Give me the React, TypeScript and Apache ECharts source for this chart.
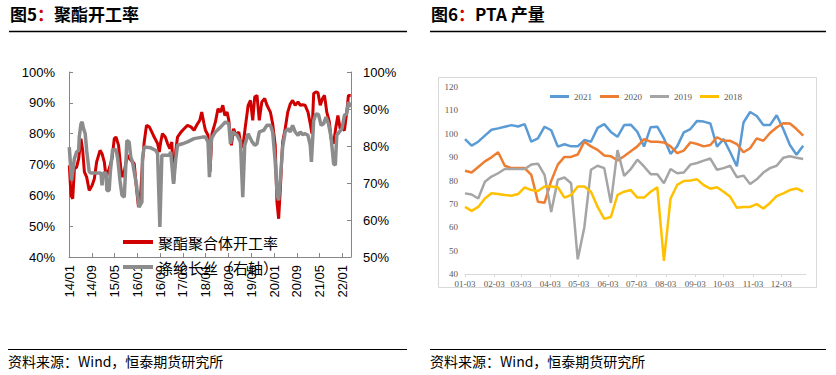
import React, { useEffect, useRef } from "react";
import * as echarts from "echarts";

// ---------- Left chart (图5 聚酯开工率) ----------
// x = months since 2014/01
const leftTickMonths = [0, 8, 16, 24, 32, 40, 48, 56, 64, 72, 80, 88, 96];
const leftTickLabels = ["14/01", "14/09", "15/05", "16/01", "16/09", "17/05", "18/01", "18/09", "19/05", "20/01", "20/09", "21/05", "22/01"];

const polyesterRate: [number, number][] = [
  [0.1, 69.7], [0.7, 60], [1.3, 58.9], [1.9, 68.6], [2.7, 69.2], [3.4, 71.9], [4.2, 78.4], [4.8, 74.6],
  [5.4, 67.6], [6.2, 65.9], [7.1, 61.6], [8.1, 63.2], [8.9, 65.4], [9.7, 70.8], [10.9, 74.6], [11.6, 73.5],
  [12.4, 70.8], [13.0, 65.9], [14.1, 68.6], [15.1, 71.9], [15.9, 78.4], [16.5, 78.9], [17.4, 76.2], [18.2, 68.6],
  [18.8, 65.9], [19.4, 67.6], [20.0, 70.8], [20.9, 73], [21.7, 71.4], [22.9, 70.3], [23.7, 62.2], [24.4, 56.2],
  [25.2, 61], [25.8, 70.8], [26.4, 77.3], [27.2, 82.7], [28.2, 82.2], [29.1, 80.5], [29.9, 78.9], [31.1, 76.8],
  [31.7, 74], [32.2, 77.3], [32.8, 80], [33.8, 78.9], [34.6, 76.8], [35.4, 75.1], [36.1, 77.3], [36.7, 63.8],
  [37.5, 74.6], [38.1, 78.9], [39.3, 80.5], [40.4, 81.6], [41.6, 82.7], [42.8, 82.2], [43.9, 81.1], [45.1, 83.2],
  [45.9, 84.3], [46.6, 87], [47.4, 83.2], [47.9, 81.1], [48.8, 79.5], [49.5, 67.6], [50.2, 80], [51.4, 83.8],
  [52.3, 88.1], [53.2, 87], [54.0, 89.2], [54.7, 85.9], [55.5, 87], [56.1, 84.3], [57.0, 76.2], [57.8, 81.6],
  [58.6, 79.5], [59.6, 80.5], [60.2, 77.3], [61.0, 75.5], [61.9, 82.2], [62.9, 89.2], [63.7, 90.8], [64.5, 84.3],
  [65.2, 91.9], [66.0, 92.4], [66.8, 84.3], [67.7, 90.3], [68.7, 91.4], [69.5, 89.2], [70.7, 87], [71.5, 83.2],
  [72.4, 76.2], [73.0, 57.8], [73.6, 52.4], [74.2, 62.2], [75.0, 77.3], [75.9, 81.6], [76.8, 87], [77.7, 89.7],
  [78.5, 90.8], [79.4, 89.2], [80.4, 90.3], [81.2, 89.2], [82.0, 89.4], [82.9, 89.2], [83.9, 87], [84.7, 83.2],
  [85.3, 80], [85.9, 93], [86.7, 93.5], [87.4, 93.3], [88.2, 89.2], [89.0, 91.4], [89.7, 92.4], [90.5, 87],
  [91.4, 83.8], [92.0, 78.4], [92.9, 76.8], [93.7, 82.2], [94.4, 85.9], [95.2, 81.6], [95.9, 81.6], [96.7, 81.1],
  [97.5, 87], [98.1, 92.4], [98.9, 92.4],
];

const filamentRate: [number, number][] = [
  [0.1, 79.7], [0.9, 70.7], [1.9, 76.6], [2.7, 78.4], [3.4, 78.8], [3.6, 82.4], [4.2, 86], [4.6, 86.5],
  [5.1, 84.7], [5.7, 83.3], [6.2, 78.8], [7.1, 73], [7.7, 72.7], [9.5, 72.7], [11.2, 72.7], [11.6, 69.4],
  [12.0, 72.7], [13.0, 72.7], [13.3, 68], [14.1, 68], [14.5, 72.9], [15.3, 79], [16.5, 79], [17.1, 76.6],
  [17.9, 70.7], [18.6, 66.7], [19.4, 66.2], [20.0, 75.7], [20.3, 81.5], [21.1, 81.1], [21.7, 77], [22.3, 75.7],
  [23.7, 69.4], [24.6, 63.5], [25.6, 64.9], [25.8, 76.6], [26.4, 79.7], [28.7, 79.5], [30.5, 78.8], [31.1, 77.9],
  [31.9, 58.1], [32.6, 77.5], [35.2, 77.5], [35.7, 78.4], [36.7, 69.8], [37.5, 76.6], [38.1, 80.2], [39.8, 80.6],
  [41.6, 81.1], [43.9, 82], [46.8, 82.4], [47.9, 82.4], [48.8, 81.1], [49.3, 71.6], [50.0, 82], [51.4, 83.8],
  [53.2, 85.1], [54.9, 86.5], [56.1, 86], [56.7, 80.6], [57.5, 83.8], [59.0, 82.9], [60.2, 81.1], [61.0, 66.2],
  [61.7, 80.2], [62.9, 83.3], [64.3, 81.1], [65.2, 80.2], [66.0, 80.6], [66.8, 83.8], [68.3, 84.2], [69.5, 85.6],
  [70.7, 85.6], [71.5, 83.8], [72.4, 75.7], [73.1, 66.7], [73.6, 65.3], [74.2, 71.2], [75.0, 79.7], [75.9, 83.8],
  [76.9, 84.7], [77.7, 83.8], [78.5, 85.6], [79.4, 83.8], [80.4, 82.9], [81.2, 83.8], [82.0, 83.1], [82.9, 83.3],
  [83.9, 82.9], [84.7, 80.2], [85.1, 75.7], [85.9, 86.9], [86.7, 88.7], [87.6, 88.5], [88.5, 85.6], [89.4, 86],
  [90.2, 87.8], [91.1, 86], [92.0, 82.4], [92.9, 75.2], [93.5, 74.8], [94.0, 82.9], [94.9, 83.8], [95.8, 84.7],
  [96.7, 88.3], [97.5, 88.7], [98.1, 91.9], [98.9, 90.5],
];

// ---------- Right chart (图6 PTA 产量) ----------
// x = days since 01-03 (weekly points)
const rightTickDays = [0, 31, 59, 90, 120, 151, 181, 212, 243, 273, 304, 334];
const rightTickLabels = ["01-03", "02-03", "03-03", "04-03", "05-03", "06-03", "07-03", "08-03", "09-03", "10-03", "11-03", "12-03"];

const pta2021 = [97.7, 94.9, 96.6, 99.2, 101.7, 102.3, 103, 103.7, 103.1, 104.1, 96.6, 98, 103, 101.5, 94.5, 95.5, 94.6, 94.6, 97.3, 96.6, 102.5, 104.1, 100.8, 98.7, 103.7, 103.9, 100.8, 94.5, 102.8, 103, 98, 91.4, 94.6, 100.6, 102, 105.5, 105.2, 104.4, 94.5, 97.7, 92.1, 86.1, 104.8, 109.3, 107.6, 103.7, 103.7, 107.9, 102, 95.2, 91, 94.9];
const pta2020 = [84.2, 83.4, 85.8, 88.2, 89.9, 92.1, 86.3, 85.3, 85.3, 85.3, 82.4, 70.9, 70.5, 79.8, 86.8, 90.1, 90.1, 91.1, 96.6, 94.6, 93.1, 90.7, 90.4, 88.6, 90.4, 92.5, 94.6, 97.7, 96.6, 96.6, 96.3, 94.6, 91.7, 92.8, 96.3, 95.6, 94.6, 95.2, 98.5, 97, 97, 95.6, 92.1, 93.8, 98, 97, 100.3, 102.7, 104.5, 104.4, 102, 99.2];
const pta2019 = [74.5, 74, 72.3, 79.5, 81.7, 83.1, 84.9, 84.9, 84.9, 84.9, 86.8, 87.2, 82.4, 66.5, 80.3, 81.3, 78.8, 46.3, 60, 84.6, 86.3, 85.3, 70.4, 93, 82, 84.9, 88.9, 86, 82.7, 82.7, 78.8, 84.9, 83.1, 83.4, 86.8, 87.5, 88.5, 89.4, 84.6, 85.3, 86.3, 81.4, 82.1, 78.5, 80.5, 83.4, 85.3, 86.3, 89.7, 90.4, 89.7, 89.2];
const pta2018 = [68.7, 67, 68.7, 72.3, 74.5, 74.2, 73.8, 73.5, 74.2, 77.1, 75.9, 75.5, 77.4, 77.4, 77.1, 72.7, 73.8, 77.4, 77.4, 75.2, 68.7, 63.6, 64.4, 73.8, 75.2, 75.9, 72.7, 72.7, 75.2, 77.1, 45.6, 72.3, 78.1, 79.8, 80, 80.5, 78, 76.5, 77.1, 75.2, 73, 68.3, 68.7, 68.7, 69.9, 68, 70.4, 73.3, 74.5, 75.9, 76.6, 75.2];

const weekly = (vals: number[]) => vals.map((v, i) => [i * 7, v]);

const CJK = "'Noto Sans CJK SC', sans-serif";
const SANS = "'Liberation Sans', Arial, sans-serif";
const SERIF = "'Liberation Serif', 'Times New Roman', serif";

export default function App() {
  const ref = useRef<HTMLDivElement>(null);

  useEffect(() => {
    document.body.style.margin = "0";
    if (!ref.current) return;
    const chart = echarts.init(ref.current, undefined, { renderer: "svg" });
    const gray = "#868686";

    const titleRich = {
      a: { fontSize: 17, fontWeight: "bold", fill: "#000", fontFamily: CJK },
      r: { fontSize: 17, fontWeight: "bold", fill: "#d00000", fontFamily: CJK },
    };

    const option: any = {
      animation: false,
      backgroundColor: "#fff",
      grid: [
        { left: 69, top: 72, width: 282, height: 185 },
        { left: 465, top: 87, width: 341, height: 187 },
      ],
      xAxis: [
        {
          type: "value", gridIndex: 0, min: 0, max: 99,
          axisLine: { show: true, onZero: false, lineStyle: { color: gray, width: 1 } },
          axisTick: { show: true, inside: true, length: 4, customValues: leftTickMonths, lineStyle: { color: gray } },
          axisLabel: {
            customValues: leftTickMonths, rotate: 90, margin: 8, fontSize: 13, color: "#000", fontFamily: SANS,
            formatter: (v: number) => leftTickLabels[leftTickMonths.indexOf(Math.round(v))] ?? "",
          },
          splitLine: { show: false },
        },
        {
          type: "value", gridIndex: 1, min: 0, max: 360,
          axisLine: { show: true, onZero: false, lineStyle: { color: "#d9d9d9", width: 1 } },
          axisTick: { show: true, length: 3, customValues: rightTickDays, lineStyle: { color: "#d9d9d9" } },
          axisLabel: {
            customValues: rightTickDays, margin: 5, fontSize: 9, color: "#595959", fontFamily: SERIF,
            formatter: (v: number) => rightTickLabels[rightTickDays.indexOf(Math.round(v))] ?? "",
          },
          splitLine: { show: false },
        },
      ],
      yAxis: [
        {
          type: "value", gridIndex: 0, position: "left", min: 40, max: 100, interval: 10,
          axisLine: { show: true, lineStyle: { color: gray } },
          axisTick: { show: true, inside: true, length: 4, lineStyle: { color: gray } },
          axisLabel: { formatter: "{value}%", fontSize: 13, color: "#000", fontFamily: SANS, margin: 14 },
          splitLine: { show: false },
        },
        {
          type: "value", gridIndex: 0, position: "right", min: 50, max: 100, interval: 10,
          axisLine: { show: true, lineStyle: { color: gray } },
          axisTick: { show: true, inside: true, length: 4, lineStyle: { color: gray } },
          axisLabel: { formatter: "{value}%", fontSize: 13, color: "#000", fontFamily: SANS, margin: 12 },
          splitLine: { show: false },
        },
        {
          type: "value", gridIndex: 1, min: 40, max: 120, interval: 10,
          axisLine: { show: false }, axisTick: { show: false },
          axisLabel: { fontSize: 9, color: "#595959", fontFamily: SERIF, margin: 7 },
          splitLine: { show: false },
        },
      ],
      legend: [
        {
          orient: "vertical", left: 118, top: 228, icon: "rect", itemWidth: 30, itemHeight: 4, itemGap: 7,
          data: ["聚酯聚合体开工率", "涤纶长丝（右轴）"],
          textStyle: { fontSize: 15, color: "#000", fontFamily: CJK, lineHeight: 18 },
        },
        {
          orient: "horizontal", left: 545, top: 87, icon: "rect", itemWidth: 19, itemHeight: 3, itemGap: 8,
          data: ["2021", "2020", "2019", "2018"],
          textStyle: { fontSize: 9, color: "#595959", fontFamily: SERIF },
        },
      ],
      series: [
        {
          name: "聚酯聚合体开工率", type: "line", xAxisIndex: 0, yAxisIndex: 0, data: polyesterRate,
          symbol: "none", lineStyle: { color: "#d00000", width: 3 }, itemStyle: { color: "#d00000" },
        },
        {
          name: "涤纶长丝（右轴）", type: "line", xAxisIndex: 0, yAxisIndex: 1, data: filamentRate,
          symbol: "none", lineStyle: { color: "#8c8c8c", width: 3.5 }, itemStyle: { color: "#8c8c8c" },
        },
        {
          name: "2021", type: "line", xAxisIndex: 1, yAxisIndex: 2, data: weekly(pta2021),
          symbol: "none", lineStyle: { color: "#5b9bd5", width: 2.5 }, itemStyle: { color: "#5b9bd5" },
        },
        {
          name: "2020", type: "line", xAxisIndex: 1, yAxisIndex: 2, data: weekly(pta2020),
          symbol: "none", lineStyle: { color: "#ed7d31", width: 2.5 }, itemStyle: { color: "#ed7d31" },
        },
        {
          name: "2019", type: "line", xAxisIndex: 1, yAxisIndex: 2, data: weekly(pta2019),
          symbol: "none", lineStyle: { color: "#a5a5a5", width: 2.5 }, itemStyle: { color: "#a5a5a5" },
        },
        {
          name: "2018", type: "line", xAxisIndex: 1, yAxisIndex: 2, data: weekly(pta2018),
          symbol: "none", lineStyle: { color: "#ffc000", width: 2.5 }, itemStyle: { color: "#ffc000" },
        },
      ],
      graphic: [
        {
          type: "text", left: 10, top: 5, z: 10,
          style: { text: "{a|图5}{r|：}{a|聚酯开工率}", rich: titleRich },
        },
        {
          type: "text", left: 431, top: 5, z: 10,
          style: { text: "{a|图6}{r|：}{a|PTA 产量}", rich: titleRich },
        },
        { type: "line", shape: { x1: 9, y1: 31.5, x2: 407, y2: 31.5 }, style: { stroke: "#000", lineWidth: 1.5 } },
        { type: "line", shape: { x1: 430, y1: 31.5, x2: 826, y2: 31.5 }, style: { stroke: "#000", lineWidth: 1.5 } },
        { type: "rect", shape: { x: 438.5, y: 77.5, width: 378, height: 210 }, style: { fill: "none", stroke: "#d9d9d9", lineWidth: 1 } },
        { type: "line", shape: { x1: 8, y1: 349.5, x2: 407, y2: 349.5 }, style: { stroke: "#000", lineWidth: 1 } },
        { type: "line", shape: { x1: 430, y1: 349.5, x2: 826, y2: 349.5 }, style: { stroke: "#000", lineWidth: 1 } },
        {
          type: "text", left: 8, top: 354,
          style: { text: "资料来源：Wind，恒泰期货研究所", fill: "#000", font: `14px ${CJK}` },
        },
        {
          type: "text", left: 430, top: 354,
          style: { text: "资料来源：Wind，恒泰期货研究所", fill: "#000", font: `14px ${CJK}` },
        },
      ],
    };

    chart.setOption(option);
    return () => chart.dispose();
  }, []);

  return <div ref={ref} style={{ width: 836, height: 375 }} />;
}
